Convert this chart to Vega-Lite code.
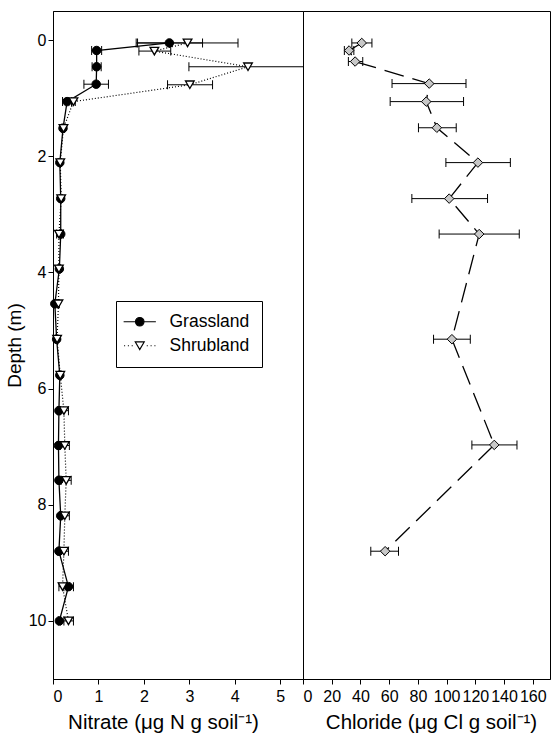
{
  "$schema": "https://vega.github.io/schema/vega-lite/v6.json",
  "background": "white",
  "padding": {"left": 4, "top": 10, "right": 0, "bottom": 0},
  "autosize": {"type": "pad"},
  "spacing": 0,
  "bounds": "flush",
  "config": {
    "font": "Liberation Sans",
    "view": {"stroke": "black", "strokeWidth": 1},
    "axis": {"grid": false, "domainColor": "black", "tickColor": "black", "labelColor": "black", "titleColor": "black", "labelFont": "Liberation Sans", "titleFont": "Liberation Sans", "labelFontSize": 16, "titleFontSize": 20.5, "titleFontWeight": "normal", "tickSize": 5, "tickWidth": 1, "domainWidth": 1, "labelOverlap": false},
    "legend": {"labelFont": "Liberation Sans", "labelColor": "black"}
  },
  "datasets": {
    "nitrate": [
      {"series": "Grassland", "depth": 0.05, "mean": 2.56, "lo": 1.83, "hi": 3.29},
      {"series": "Grassland", "depth": 0.18, "mean": 0.96, "lo": 0.85, "hi": 1.07},
      {"series": "Grassland", "depth": 0.46, "mean": 0.96, "lo": 0.86, "hi": 1.06},
      {"series": "Grassland", "depth": 0.76, "mean": 0.95, "lo": 0.68, "hi": 1.22},
      {"series": "Grassland", "depth": 1.06, "mean": 0.31, "lo": 0.21, "hi": 0.41},
      {"series": "Grassland", "depth": 1.52, "mean": 0.22, "lo": 0.19, "hi": 0.25},
      {"series": "Grassland", "depth": 2.11, "mean": 0.15, "lo": 0.13, "hi": 0.17},
      {"series": "Grassland", "depth": 2.73, "mean": 0.17, "lo": 0.15, "hi": 0.19},
      {"series": "Grassland", "depth": 3.34, "mean": 0.17, "lo": 0.15, "hi": 0.19},
      {"series": "Grassland", "depth": 3.94, "mean": 0.14, "lo": 0.12, "hi": 0.16},
      {"series": "Grassland", "depth": 4.54, "mean": 0.04, "lo": 0.02, "hi": 0.06},
      {"series": "Grassland", "depth": 5.15, "mean": 0.08, "lo": 0.06, "hi": 0.1},
      {"series": "Grassland", "depth": 5.77, "mean": 0.15, "lo": 0.13, "hi": 0.17},
      {"series": "Grassland", "depth": 6.38, "mean": 0.13, "lo": 0.1, "hi": 0.16},
      {"series": "Grassland", "depth": 6.98, "mean": 0.12, "lo": 0.1, "hi": 0.14},
      {"series": "Grassland", "depth": 7.58, "mean": 0.13, "lo": 0.11, "hi": 0.15},
      {"series": "Grassland", "depth": 8.19, "mean": 0.17, "lo": 0.15, "hi": 0.19},
      {"series": "Grassland", "depth": 8.8, "mean": 0.13, "lo": 0.11, "hi": 0.15},
      {"series": "Grassland", "depth": 9.41, "mean": 0.34, "lo": 0.24, "hi": 0.45},
      {"series": "Grassland", "depth": 10.0, "mean": 0.14, "lo": 0.12, "hi": 0.16},
      {"series": "Shrubland", "depth": 0.05, "mean": 2.96, "lo": 1.86, "hi": 4.07},
      {"series": "Shrubland", "depth": 0.19, "mean": 2.23, "lo": 1.89, "hi": 2.59},
      {"series": "Shrubland", "depth": 0.46, "mean": 4.29, "lo": 2.99, "hi": 5.59},
      {"series": "Shrubland", "depth": 0.77, "mean": 3.01, "lo": 2.52, "hi": 3.51},
      {"series": "Shrubland", "depth": 1.06, "mean": 0.45, "lo": 0.41, "hi": 0.49},
      {"series": "Shrubland", "depth": 1.52, "mean": 0.23, "lo": 0.21, "hi": 0.25},
      {"series": "Shrubland", "depth": 2.11, "mean": 0.16, "lo": 0.14, "hi": 0.18},
      {"series": "Shrubland", "depth": 2.73, "mean": 0.18, "lo": 0.16, "hi": 0.2},
      {"series": "Shrubland", "depth": 3.34, "mean": 0.13, "lo": 0.08, "hi": 0.23},
      {"series": "Shrubland", "depth": 3.94, "mean": 0.13, "lo": 0.11, "hi": 0.15},
      {"series": "Shrubland", "depth": 4.54, "mean": 0.12, "lo": 0.1, "hi": 0.14},
      {"series": "Shrubland", "depth": 5.15, "mean": 0.09, "lo": 0.07, "hi": 0.11},
      {"series": "Shrubland", "depth": 5.77, "mean": 0.16, "lo": 0.14, "hi": 0.18},
      {"series": "Shrubland", "depth": 6.38, "mean": 0.24, "lo": 0.14, "hi": 0.34},
      {"series": "Shrubland", "depth": 6.98, "mean": 0.26, "lo": 0.16, "hi": 0.36},
      {"series": "Shrubland", "depth": 7.58, "mean": 0.29, "lo": 0.18, "hi": 0.4},
      {"series": "Shrubland", "depth": 8.19, "mean": 0.26, "lo": 0.16, "hi": 0.36},
      {"series": "Shrubland", "depth": 8.8, "mean": 0.24, "lo": 0.14, "hi": 0.34},
      {"series": "Shrubland", "depth": 9.41, "mean": 0.21, "lo": 0.13, "hi": 0.29},
      {"series": "Shrubland", "depth": 10.0, "mean": 0.34, "lo": 0.24, "hi": 0.45}
    ],
    "chloride": [
      {"depth": 0.05, "mean": 40.9, "lo": 34, "hi": 48},
      {"depth": 0.18, "mean": 32.1, "lo": 28.8, "hi": 35.4},
      {"depth": 0.37, "mean": 36.3, "lo": 31.6, "hi": 41.6},
      {"depth": 0.75, "mean": 87.9, "lo": 62, "hi": 113.5},
      {"depth": 1.06, "mean": 85.8, "lo": 60.7, "hi": 111.8},
      {"depth": 1.51, "mean": 93.2, "lo": 80.4, "hi": 106.7},
      {"depth": 2.11, "mean": 121.8, "lo": 99.5, "hi": 144.4},
      {"depth": 2.73, "mean": 101.8, "lo": 75.8, "hi": 128.5},
      {"depth": 3.34, "mean": 122.7, "lo": 94.8, "hi": 150.6},
      {"depth": 5.15, "mean": 103.7, "lo": 90.9, "hi": 116.5},
      {"depth": 6.97, "mean": 133.2, "lo": 117.6, "hi": 149},
      {"depth": 8.8, "mean": 57.2, "lo": 47.2, "hi": 66.5}
    ]
  },
  "hconcat": [
    {
      "width": 250,
      "height": 668,
      "data": {"name": "nitrate"},
      "encoding": {
        "y": {"field": "depth", "type": "quantitative", "scale": {"domain": [-0.5, 11], "reverse": true, "nice": false, "zero": false}, "axis": {"title": "Depth (m)", "values": [0, 2, 4, 6, 8, 10], "labelPadding": 2, "titlePadding": 4, "titleFontSize": 19}}
      },
      "layer": [
        {
          "mark": {"type": "rule", "clip": true, "color": "black", "strokeWidth": 1},
          "encoding": {
            "x": {"field": "lo", "type": "quantitative", "scale": {"domain": [0, 5.5], "nice": false, "zero": false}, "axis": {"title": "Nitrate (μg N g soil⁻¹)", "values": [0, 1, 2, 3, 4, 5], "labelPadding": 4, "titlePadding": 8, "titleX": 110, "labelOverlap": false}},
            "x2": {"field": "hi"}
          }
        },
        {
          "mark": {"type": "tick", "orient": "vertical", "clip": true, "color": "black", "size": 9, "thickness": 1, "opacity": 1},
          "encoding": {"x": {"field": "lo", "type": "quantitative", "axis": {"title": "Nitrate (μg N g soil⁻¹)", "values": [0, 1, 2, 3, 4, 5], "labelPadding": 4, "titlePadding": 8, "titleX": 110, "labelOverlap": false}}}
        },
        {
          "mark": {"type": "tick", "orient": "vertical", "clip": true, "color": "black", "size": 9, "thickness": 1, "opacity": 1},
          "encoding": {"x": {"field": "hi", "type": "quantitative", "axis": {"title": "Nitrate (μg N g soil⁻¹)", "values": [0, 1, 2, 3, 4, 5], "labelPadding": 4, "titlePadding": 8, "titleX": 110, "labelOverlap": false}}}
        },
        {
          "transform": [{"filter": "datum.series === 'Grassland'"}],
          "mark": {"type": "line", "color": "black", "strokeWidth": 1.3},
          "encoding": {"x": {"field": "mean", "type": "quantitative", "axis": {"title": "Nitrate (μg N g soil⁻¹)", "values": [0, 1, 2, 3, 4, 5], "labelPadding": 4, "titlePadding": 8, "titleX": 110, "labelOverlap": false}}, "order": {"field": "depth", "type": "quantitative"}}
        },
        {
          "transform": [{"filter": "datum.series === 'Shrubland'"}],
          "mark": {"type": "line", "color": "black", "strokeWidth": 1.2, "strokeDash": [1, 2]},
          "encoding": {"x": {"field": "mean", "type": "quantitative", "axis": {"title": "Nitrate (μg N g soil⁻¹)", "values": [0, 1, 2, 3, 4, 5], "labelPadding": 4, "titlePadding": 8, "titleX": 110, "labelOverlap": false}}, "order": {"field": "depth", "type": "quantitative"}}
        },
        {
          "transform": [{"filter": "datum.series === 'Grassland'"}],
          "mark": {"type": "point", "shape": "circle", "filled": true, "fill": "black", "stroke": "black", "strokeWidth": 1, "size": 72, "opacity": 1},
          "encoding": {"x": {"field": "mean", "type": "quantitative", "axis": {"title": "Nitrate (μg N g soil⁻¹)", "values": [0, 1, 2, 3, 4, 5], "labelPadding": 4, "titlePadding": 8, "titleX": 110, "labelOverlap": false}}}
        },
        {
          "transform": [{"filter": "datum.series === 'Shrubland'"}],
          "mark": {"type": "point", "shape": "triangle-down", "filled": true, "fill": "white", "stroke": "black", "strokeWidth": 1.3, "size": 75, "opacity": 1},
          "encoding": {"x": {"field": "mean", "type": "quantitative", "axis": {"title": "Nitrate (μg N g soil⁻¹)", "values": [0, 1, 2, 3, 4, 5], "labelPadding": 4, "titlePadding": 8, "titleX": 110, "labelOverlap": false}}}
        },
        {
          "transform": [{"filter": "false"}],
          "mark": {"type": "point", "filled": true, "stroke": "black", "strokeWidth": 1.2, "size": 72, "opacity": 1},
          "encoding": {
            "x": {"field": "mean", "type": "quantitative", "axis": {"title": "Nitrate (μg N g soil⁻¹)", "values": [0, 1, 2, 3, 4, 5], "labelPadding": 4, "titlePadding": 8, "titleX": 110, "labelOverlap": false}},
            "fill": {
              "field": "series", "type": "nominal",
              "scale": {"domain": ["Grassland", "Shrubland"], "range": ["black", "white"]},
              "legend": {
                "title": null, "orient": "none", "legendX": 63, "legendY": 290, "padding": 12,
                "strokeColor": "black", "fillColor": "white", "symbolSize": 72, "symbolOffset": 3, "labelOffset": 21,
                "labelFontSize": 17.5, "rowPadding": 5,
                "symbolType": {"expr": "datum.value === 'Grassland' ? 'M-3.8,0L-1,0M1,0L3.8,0M1,0A1,1,0,1,1,-1,0A1,1,0,1,1,1,0Z' : 'M-3.7,0L-3.45,0M-2.8,0L-2.55,0M-1.9,0L-1.65,0M1.65,0L1.9,0M2.55,0L2.8,0M3.45,0L3.7,0M-1.05,-0.9L1.05,-0.9L0,0.92Z'"},
                "symbolStrokeColor": "black",
                "symbolStrokeWidth": 1.2
              }
            }
          }
        }
      ]
    },
    {
      "width": 247,
      "height": 668,
      "data": {"name": "chloride"},
      "encoding": {
        "y": {"field": "depth", "type": "quantitative", "scale": {"domain": [-0.5, 11], "reverse": true, "nice": false, "zero": false}, "axis": null}
      },
      "layer": [
        {
          "mark": {"type": "rule", "clip": true, "color": "black", "strokeWidth": 1},
          "encoding": {
            "x": {"field": "lo", "type": "quantitative", "scale": {"domain": [0, 172], "nice": false, "zero": false}, "axis": {"title": "Chloride (μg Cl g soil⁻¹)", "values": [0, 20, 40, 60, 80, 100, 120, 140, 160], "labelPadding": 4, "titlePadding": 8, "titleX": 128, "labelOverlap": false}},
            "x2": {"field": "hi"}
          }
        },
        {
          "mark": {"type": "tick", "orient": "vertical", "clip": true, "color": "black", "size": 9, "thickness": 1, "opacity": 1},
          "encoding": {"x": {"field": "lo", "type": "quantitative", "axis": {"title": "Chloride (μg Cl g soil⁻¹)", "values": [0, 20, 40, 60, 80, 100, 120, 140, 160], "labelPadding": 4, "titlePadding": 8, "titleX": 128, "labelOverlap": false}}}
        },
        {
          "mark": {"type": "tick", "orient": "vertical", "clip": true, "color": "black", "size": 9, "thickness": 1, "opacity": 1},
          "encoding": {"x": {"field": "hi", "type": "quantitative", "axis": {"title": "Chloride (μg Cl g soil⁻¹)", "values": [0, 20, 40, 60, 80, 100, 120, 140, 160], "labelPadding": 4, "titlePadding": 8, "titleX": 128, "labelOverlap": false}}}
        },
        {
          "mark": {"type": "line", "color": "black", "strokeWidth": 1.3, "strokeDash": [20, 9]},
          "encoding": {"x": {"field": "mean", "type": "quantitative", "axis": {"title": "Chloride (μg Cl g soil⁻¹)", "values": [0, 20, 40, 60, 80, 100, 120, 140, 160], "labelPadding": 4, "titlePadding": 8, "titleX": 128, "labelOverlap": false}}, "order": {"field": "depth", "type": "quantitative"}}
        },
        {
          "mark": {"type": "point", "shape": "diamond", "filled": true, "fill": "#c8c8c8", "stroke": "black", "strokeWidth": 1, "size": 90, "opacity": 1},
          "encoding": {"x": {"field": "mean", "type": "quantitative", "axis": {"title": "Chloride (μg Cl g soil⁻¹)", "values": [0, 20, 40, 60, 80, 100, 120, 140, 160], "labelPadding": 4, "titlePadding": 8, "titleX": 128, "labelOverlap": false}}}
        }
      ]
    }
  ]
}
